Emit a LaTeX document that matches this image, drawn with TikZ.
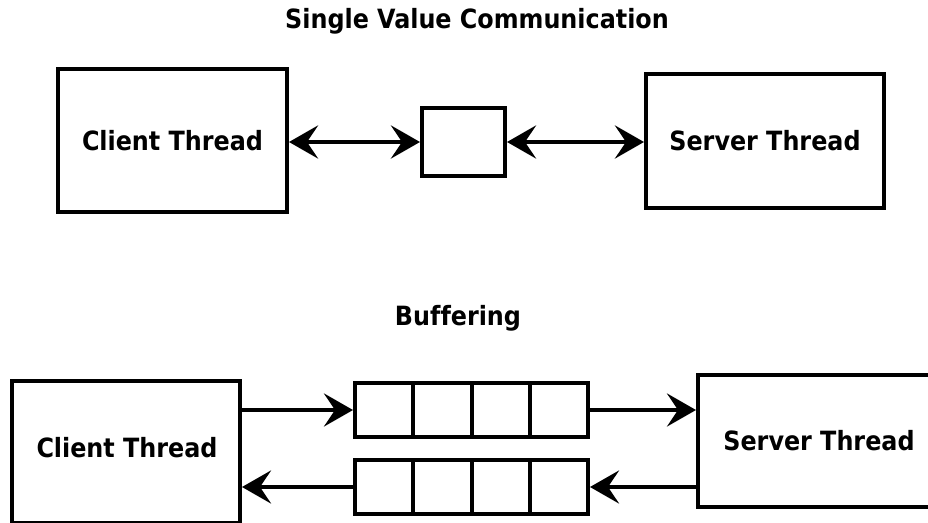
\documentclass[tikz,border=0pt]{standalone}
\usepackage{fontspec}
\setmainfont{DejaVu Sans Condensed}[Ligatures=NoCommon]
\usetikzlibrary{arrows.meta}
\begin{document}
\begin{tikzpicture}[x=1pt,y=-1pt,
  txt/.style={font=\fontsize{26.5}{30}\selectfont\bfseries,inner sep=0pt},
  box/.style={draw,line width=4pt,rectangle,inner sep=0pt,txt},
  cell/.style={draw,line width=4pt,rectangle,inner sep=0pt,minimum width=58.25pt,minimum height=54pt,anchor=west},
  tipx/.tip={Stealth[length=29pt,width=33pt,inset=11pt]},
  arr/.style={line width=4pt,-tipx},
  darr/.style={line width=4.5pt,tipx-tipx}]
\useasboundingbox[fill=white] (0,0) rectangle (928,522);
% top section
\node[txt,anchor=base] (t1) at (477,28.5) {Single Value Communication};
\node[box,minimum width=229pt,minimum height=143pt] (c1) at (172.5,140.5) {Client Thread};
\node[box,minimum width=83pt,minimum height=68pt] (m) at (463.5,142) {};
\node[box,minimum width=238pt,minimum height=134pt] (s1) at (765,141) {Server Thread};
\draw[darr] (m.west -| c1.east) -- (m.west);
\draw[darr] (m.east) -- (m.east -| s1.west);
% bottom section
\node[txt,anchor=base] (t2) at (458,325) {Buffering};
\node[box,minimum width=228pt,minimum height=142pt] (c2) at (126,451.5) {};
\node[txt] (c2t) at (127,448) {Client Thread};
\node[box,minimum width=242pt,minimum height=132pt] (s2) at (819,441) {Server Thread};
\foreach \i/\x in {1/353,2/411.25,3/469.5,4/527.75}{
  \node[cell] (qa\i) at (\x,410) {};
  \node[cell] (qb\i) at (\x,487) {};
}
\draw[arr] (qa1.west -| c2.east) -- (qa1.west);
\draw[arr] (qa4.east) -- (qa4.east -| s2.west);
\draw[arr] (qb4.east -| s2.west) -- (qb4.east);
\draw[arr] (qb1.west) -- (qb1.west -| c2.east);
\end{tikzpicture}
\end{document}
